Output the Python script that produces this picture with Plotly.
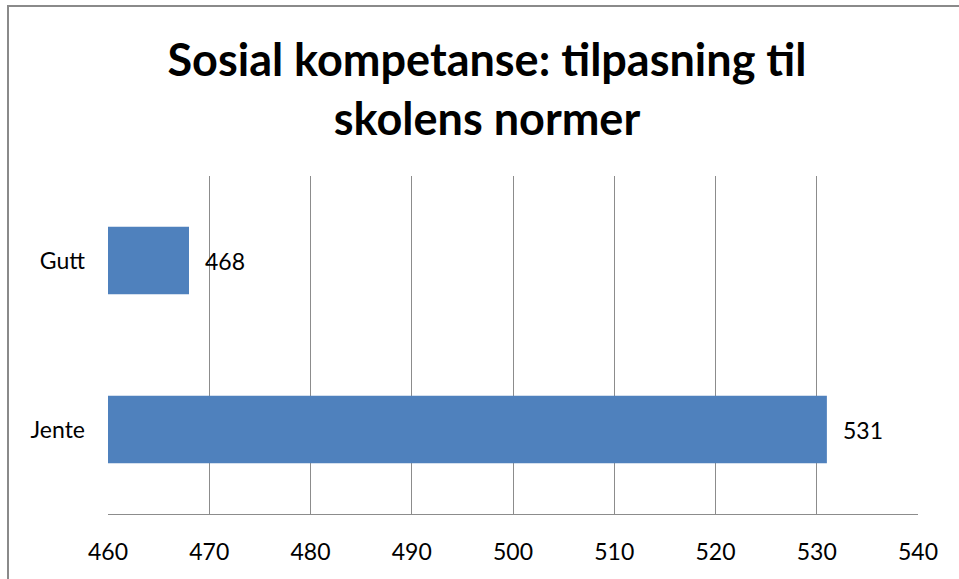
import plotly.graph_objects as go

categories = ["Jente", "Gutt"]
values = [531, 468]
x_ticks = [460, 470, 480, 490, 500, 510, 520, 530, 540]

FONT = "Lato"
W, H = 959, 579
L, R, T, B = 108, 41, 176, 65
PW, PH = W - L - R, H - T - B

fig = go.Figure()
fig.add_trace(go.Bar(
    x=values, y=categories, orientation="h",
    marker=dict(color="#4F81BD", line=dict(width=0)),
))
for c, v in zip(categories, values):
    fig.add_annotation(x=v, y=c, text=str(v), showarrow=False, xanchor="left",
                       xshift=14, font=dict(family=FONT, size=23, color="black"))

fig.update_layout(
    width=W, height=H,
    margin=dict(l=L, r=R, t=T, b=B),
    paper_bgcolor="white", plot_bgcolor="white",
    bargap=0.6, showlegend=False,
    title=dict(text="<b>Sosial kompetanse: tilpasning til<br>skolens normer</b>",
               x=487 / W, xanchor="center", yref="container", y=1 - 76 / H, yanchor="top",
               font=dict(family=FONT, size=45, color="black")),
    xaxis=dict(range=[460, 540], tickvals=x_ticks, showgrid=True, gridcolor="#8c8c8c",
               gridwidth=1, showline=True, linecolor="#8c8c8c", linewidth=1,
               zeroline=False, ticks="", ticklabelstandoff=17,
               tickfont=dict(family=FONT, size=23, color="black")),
    yaxis=dict(showgrid=False, showline=False, zeroline=False, ticks="",
               ticklabelstandoff=22,
               tickfont=dict(family=FONT, size=23, color="black")),
    shapes=[
        dict(type="line", xref="paper", yref="paper",
             x0=(8 - L) / PW, x1=(W + 5 - L) / PW,
             y0=(H - B - 6) / PH, y1=(H - B - 6) / PH,
             line=dict(color="#8a8a8a", width=2)),
        dict(type="line", xref="paper", yref="paper",
             x0=(8 - L) / PW, x1=(8 - L) / PW,
             y0=-(B + 5) / PH, y1=(H - B - 5) / PH,
             line=dict(color="#8a8a8a", width=2)),
    ],
)
fig.write_html("out.html", config={"displayModeBar": False},
               post_script="document.body.style.margin='0';document.body.style.overflow='hidden';")
